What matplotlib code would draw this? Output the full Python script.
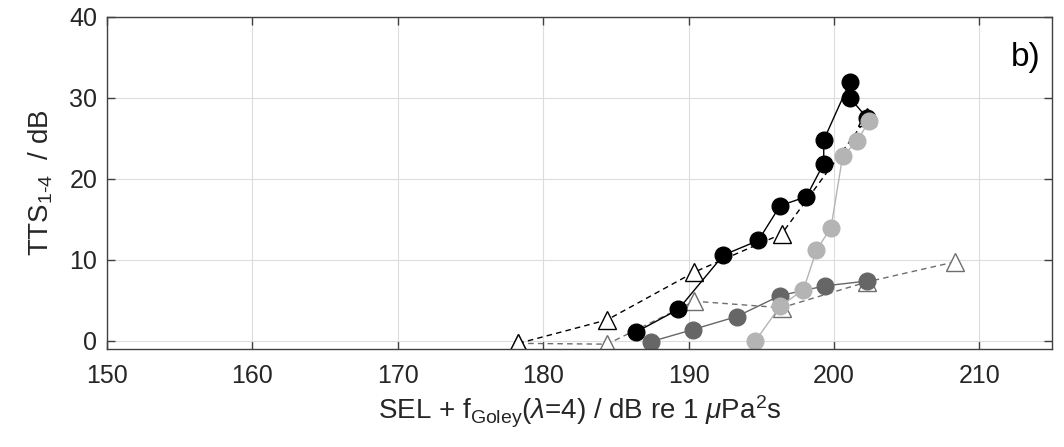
import matplotlib.pyplot as plt

plt.rcParams["font.family"] = ["Liberation Sans", "DejaVu Sans"]
plt.rcParams["mathtext.fontset"] = "custom"
plt.rcParams["mathtext.rm"] = "Liberation Sans"
plt.rcParams["mathtext.it"] = "Liberation Sans:italic"

# TTS growth vs. Goley-weighted SEL, four exposure series
tri_blk_x = [178.3, 184.4, 190.4, 196.4, 202.3]
tri_blk_y = [-0.3, 2.6, 8.5, 13.2, 27.6]

tri_gry_x = [178.3, 184.4, 190.4, 196.4, 202.3, 208.3]
tri_gry_y = [-0.3, -0.4, 4.9, 4.1, 7.3, 9.75]

blk_x = [186.4, 189.3, 192.4, 194.8, 196.3, 198.1, 199.3, 199.3, 201.1, 201.1, 202.3]
blk_y = [1.1, 3.9, 10.6, 12.4, 16.7, 17.8, 21.9, 24.8, 32.0, 30.0, 27.5]

dgry_x = [187.4, 190.3, 193.3, 196.3, 199.4, 202.3]
dgry_y = [-0.1, 1.4, 3.0, 5.6, 6.8, 7.4]

lgry_x = [194.6, 196.3, 197.9, 198.8, 199.8, 200.6, 201.6, 202.4]
lgry_y = [0.0, 4.3, 6.3, 11.2, 14.0, 22.8, 24.7, 27.1]

fig = plt.figure(figsize=(10.64, 4.47), dpi=100)
ax = fig.add_axes([0.1006, 0.2192, 0.8881, 0.7428])

ax.plot(tri_gry_x, tri_gry_y, "--", color="#6e6e6e", lw=1.0, dashes=(4, 3),
        marker="^", ms=13.5, mfc="white", mec="#6e6e6e", mew=1.0)
ax.plot(tri_blk_x, tri_blk_y, "--", color="black", lw=1.0, dashes=(4, 3),
        marker="^", ms=13.5, mfc="white", mec="black", mew=1.0)
ax.plot(blk_x, blk_y, "-", color="black", lw=1.0,
        marker="o", ms=12, mfc="black", mec="black")
ax.plot(dgry_x, dgry_y, "-", color="#666666", lw=1.0,
        marker="o", ms=12, mfc="#666666", mec="#666666")
ax.plot(lgry_x, lgry_y, "-", color="#b4b4b4", lw=1.0,
        marker="o", ms=12, mfc="#b4b4b4", mec="#b4b4b4")

ax.set_xlim(150, 215)
ax.set_ylim(-1, 40)
ax.set_xticks(range(150, 211, 10))
ax.set_yticks(range(0, 41, 10))
ax.grid(True, color="#dcdcdc", lw=0.8)
ax.set_axisbelow(True)

for s in ax.spines.values():
    s.set_color("#404040")
    s.set_linewidth(1.0)
ax.tick_params(direction="in", length=6, width=1.0, color="#404040",
               labelsize=18, labelcolor="#262626", top=True, right=True)
ax.tick_params(axis="x", pad=11)
ax.tick_params(axis="y", pad=7)

ax.set_xlabel(r"SEL + f$_{\mathrm{Goley}}$($\it{\lambda}$=4) / dB re 1 $\it{\mu}$Pa$^{2}$s",
              fontsize=20, color="#262626", labelpad=4)
ax.set_ylabel(r"TTS$_{\mathrm{1\text{-}4}}$  / dB", fontsize=20, color="#262626", labelpad=10)

ax.text(214.2, 35.0, "b)", fontsize=24, ha="right", va="center", color="black")

fig.savefig("out.png", dpi=100)
